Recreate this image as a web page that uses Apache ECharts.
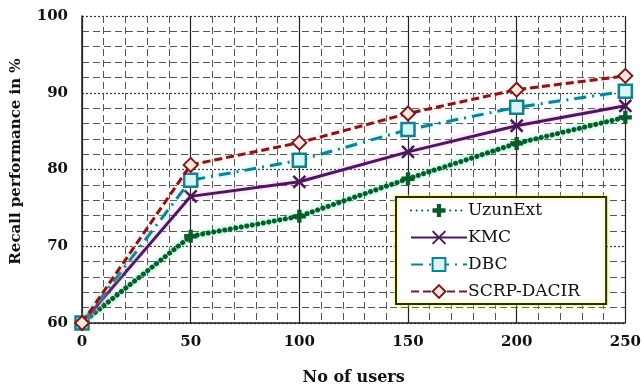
<!DOCTYPE html>
<html>
<head>
<meta charset="utf-8">
<script src="https://cdn.jsdelivr.net/npm/echarts@6/dist/echarts.min.js"></script>
<style>
  html, body { margin: 0; padding: 0; background: #fff; }
  #chart { width: 644px; height: 391px; }
</style>
</head>
<body>
<div id="chart"></div>
<script>
// Number of users on the x axis
const users = [0, 50, 100, 150, 200, 250];

// Recall performance (%) per method
const uzunExt   = [60, 71.3, 73.9, 78.8, 83.4, 86.8];
const kmc       = [60, 76.5, 78.4, 82.3, 85.7, 88.3];
const dbc       = [60, 78.6, 81.2, 85.2, 88.1, 90.2];
const scrpDacir = [60, 80.6, 83.5, 87.3, 90.4, 92.2];

const seriesNames = ['UzunExt', 'KMC', 'DBC', 'SCRP-DACIR'];

const FONT = '"DejaVu Serif", "Liberation Serif", serif';

const plusPath = 'path://M4,0H8V4H12V8H8V12H4V8H0V4H4Z';
const crossPath = 'path://M0,0L12,12M12,0L0,12';

function pairs(vals) {
  return users.map((u, i) => [u, vals[i]]);
}

const chart = echarts.init(document.getElementById('chart'), null, { renderer: 'canvas' });

chart.setOption({
  backgroundColor: '#ffffff',
  animation: false,
  grid: { left: 82, right: 8, top: 16, bottom: 65 },
  legend: {
    data: seriesNames,
    orient: 'vertical',
    left: 396,
    top: 197,
    padding: [5, 26, 4, 14],
    itemGap: 10,
    itemWidth: 56,
    itemHeight: 16,
    backgroundColor: '#ffffff',
    borderColor: '#2e2e08',
    borderWidth: 2,
    shadowColor: 'rgba(230,240,90,0.9)',
    shadowBlur: 4,
    textStyle: { fontFamily: FONT, fontSize: 17, color: '#111', padding: [0, 0, 0, -4] }
  },
  xAxis: {
    type: 'value',
    min: 0, max: 250, interval: 50,
    name: 'No of users',
    nameLocation: 'middle',
    nameGap: 47,
    nameTextStyle: { fontFamily: FONT, fontSize: 16, fontWeight: 'bold', color: '#111' },
    axisLine: { show: true, lineStyle: { color: '#222', width: 1.5 } },
    axisTick: { show: false },
    axisLabel: { fontFamily: FONT, fontSize: 15, fontWeight: 'bold', color: '#111', margin: 12 },
    splitLine: { show: true, lineStyle: { color: '#222', width: 1.2, type: 'solid' } },
    minorTick: { show: false, splitNumber: 5 },
    minorSplitLine: { show: true, lineStyle: { color: '#555', width: 1, type: [7, 4] } }
  },
  yAxis: {
    type: 'value',
    min: 60, max: 100, interval: 10,
    name: 'Recall performance in %',
    nameLocation: 'middle',
    nameGap: 58,
    nameTextStyle: { fontFamily: FONT, fontSize: 15, fontWeight: 'bold', color: '#111', padding: [0, 0, 0, 16] },
    axisLine: { show: true, lineStyle: { color: '#222', width: 1.5 } },
    axisTick: { show: false },
    axisLabel: { fontFamily: FONT, fontSize: 15, fontWeight: 'bold', color: '#111', margin: 14 },
    splitLine: { show: true, lineStyle: { color: '#333', width: 1.2, type: [2, 2] } },
    minorTick: { show: false, splitNumber: 5 },
    minorSplitLine: { show: true, lineStyle: { color: '#555', width: 1, type: [7, 4] } }
  },
  series: [
    {
      name: 'UzunExt',
      type: 'line',
      data: pairs(uzunExt),
      symbol: plusPath,
      symbolSize: 13,
      z: 3,
      lineStyle: { color: '#0b5a2c', width: 5, type: [0.1, 5.5], cap: 'round',
                   shadowColor: 'rgba(90,230,160,0.8)', shadowBlur: 5 },
      itemStyle: { color: '#0b5a2c', borderColor: '#0b5a2c', borderWidth: 0 }
    },
    {
      name: 'KMC',
      type: 'line',
      data: pairs(kmc),
      symbol: crossPath,
      symbolSize: 12,
      z: 4,
      lineStyle: { color: '#4a1a58', width: 3,
                   shadowColor: 'rgba(240,150,230,0.7)', shadowBlur: 5 },
      itemStyle: { color: '#4a1a58', borderColor: '#4a1a58', borderWidth: 2.5 }
    },
    {
      name: 'DBC',
      type: 'line',
      data: pairs(dbc),
      symbol: 'rect',
      symbolSize: 13,
      z: 5,
      lineStyle: { color: '#157f8e', width: 3, type: [12, 6, 2, 6],
                   shadowColor: 'rgba(120,240,240,0.8)', shadowBlur: 5 },
      itemStyle: { color: '#d8f6f4', borderColor: '#157f8e', borderWidth: 2.5 }
    },
    {
      name: 'SCRP-DACIR',
      type: 'line',
      data: pairs(scrpDacir),
      symbol: 'diamond',
      symbolSize: 14,
      z: 6,
      lineStyle: { color: '#7a1c1c', width: 3, type: [8, 4],
                   shadowColor: 'rgba(250,170,170,0.8)', shadowBlur: 5 },
      itemStyle: { color: '#fbe6e0', borderColor: '#7a1c1c', borderWidth: 2 }
    }
  ]
});
</script>
</body>
</html>
